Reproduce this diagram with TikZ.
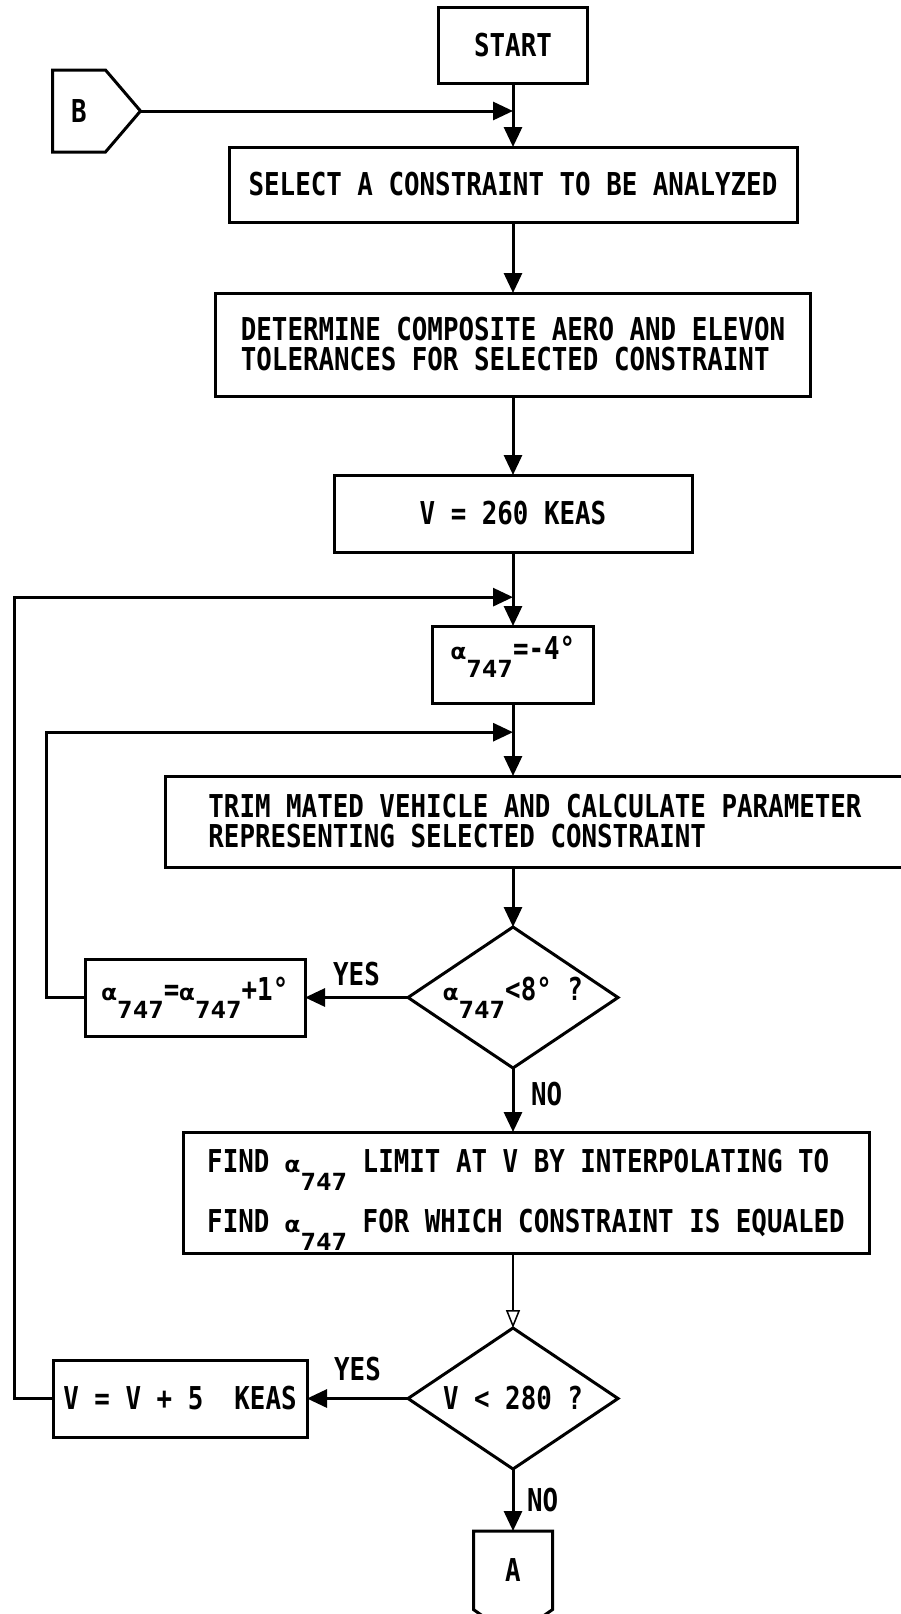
\documentclass[tikz,border=0pt]{standalone}
\usepackage{graphicx}
\usepackage{fontspec}
\setmainfont{DejaVu Sans Mono}[FakeStretch=0.82]
\usetikzlibrary{positioning,arrows.meta,calc,shapes.geometric,shapes.symbols}
% alpha with the dropped index
\newcommand\alsub[1]{\scalebox{1}[0.7]{α}\raisebox{-18pt}{\scalebox{1}[0.75]{#1}}}

\begin{document}
\begin{tikzpicture}[
    x=1pt, y=1pt, font=\fontsize{31.5pt}{30pt}\selectfont\bfseries,
    >={Triangle[length=20pt,width=18pt]}, line width=3pt,
    every node/.style={align=center, outer sep=0pt},
    box/.style={draw, rectangle, inner sep=4pt, minimum height=77pt},
    test/.style={draw, diamond, aspect=1.49, inner sep=0pt, minimum width=210pt, minimum height=141pt},
    conn/.style={draw, signal, inner sep=0pt},
    weak/.style={line width=1.5pt, -{Triangle[open,length=18pt,width=14pt]}},
    lab/.style={inner sep=2pt}]
  \useasboundingbox (0,0) rectangle (900,-1614);
  \node[box, minimum width=149pt, minimum height=76pt] (start) at (513,-45) {START};
  \node[conn, signal to=east, signal pointer angle=99, minimum width=88pt, minimum height=82pt,
        left=298pt of start, yshift=-66pt] (inB) {B};
  \node[box, minimum width=568pt, minimum height=75pt, below=64pt of start] (sel) {SELECT A CONSTRAINT TO BE ANALYZED};
  \node[box, minimum width=595pt, minimum height=103pt, align=left, below=71pt of sel] (det)
       {DETERMINE COMPOSITE AERO AND ELEVON\\TOLERANCES FOR SELECTED CONSTRAINT};
  \node[box, minimum width=358pt, below=79pt of det] (v260) {V = 260 KEAS};
  \node[box, minimum width=161pt, text depth=33pt, below=74pt of v260] (alpha) {\alsub{747}=-4°};
  \node[box, minimum width=740pt, minimum height=91pt, align=left, below=73pt of alpha, xshift=22pt] (trim)
       {TRIM MATED VEHICLE AND CALCULATE PARAMETER\\REPRESENTING SELECTED CONSTRAINT};
  \node[test, below=60pt of trim, xshift=-22pt] (chk1) {\alsub{747}<8° ?};
  \node[box, minimum width=220pt, left=103pt of chk1] (incA) {\alsub{747}=\alsub{747}+1°};
  \node[box, minimum width=686pt, minimum height=121pt, text depth=4pt, align=left, below=64pt of chk1, xshift=13pt] (find)
       {FIND \alsub{747} LIMIT AT V BY INTERPOLATING TO\\[18pt]FIND \alsub{747} FOR WHICH CONSTRAINT IS EQUALED};
  \node[test, below=75pt of find, xshift=-13pt] (chk2) {V < 280 ?};
  \node[box, minimum width=254pt, left=101pt of chk2] (incV) {V = V + 5\ \ KEAS};
  \node[conn, signal to=south, signal pointer angle=110, minimum width=79pt, minimum height=84pt,
        below=62pt of chk2] (outA) {A};
  % junctions on the main line
  \coordinate (jB) at (inB.east -| start.south);
  \coordinate (jV) at ($(v260.south)!0.61!(alpha.north)$);
  \coordinate (jA) at ($(alpha.south)!0.4!(alpha.south |- trim.north)$);
  \draw[->] (inB.east) -- (jB);
  \draw[->] (start) -- (sel);
  \draw[->] (sel) -- (det);
  \draw[->] (det) -- (v260);
  \draw[->] (v260) -- (alpha);
  \draw[->] (alpha.south) -- (alpha.south |- trim.north);
  \draw[->] (chk1.north |- trim.south) -- (chk1.north);
  \draw[->] (chk1.west) -- node[lab, above=10pt]{YES} (incA.east);
  \draw[->] (chk1.south) -- node[lab, right=16pt, yshift=6pt]{NO} (chk1.south |- find.north);
  \draw[weak] (chk1.south |- find.south) -- (chk2.north);
  \draw[->] (chk2.west) -- node[lab, above=16pt]{YES} (incV.east);
  \draw[->] (chk2.south) -- node[lab, right=12pt]{NO} (outA.north);
  % the two loops back
  \draw[->] (incA.west) -- ++(-39pt,0) |- (jA);
  \draw[->] (incV.west) -- ++(-39pt,0) |- (jV);
\end{tikzpicture}
\end{document}
